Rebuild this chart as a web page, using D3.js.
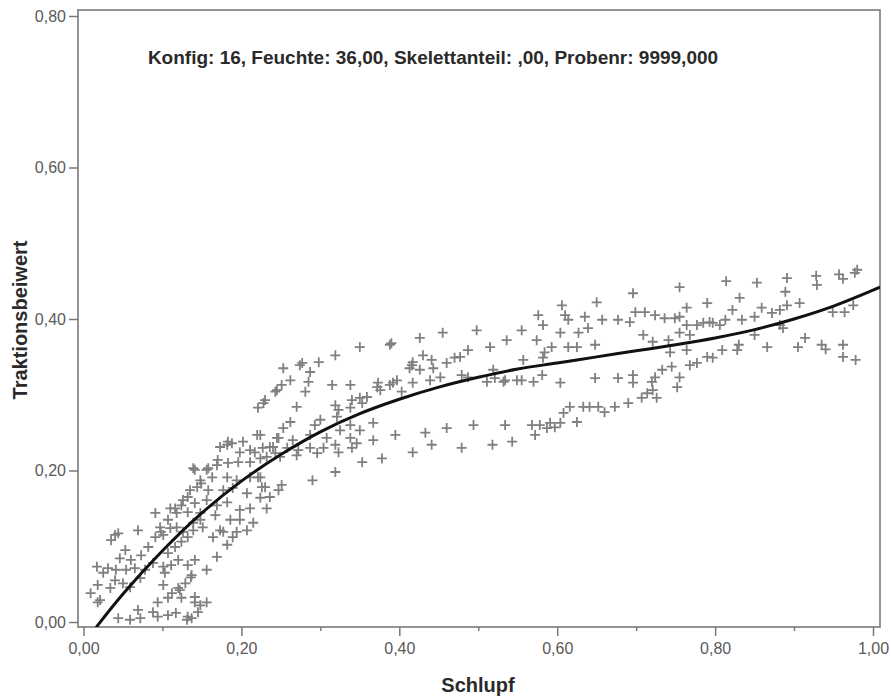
<!DOCTYPE html>
<html>
<head>
<meta charset="utf-8">
<script src="https://cdn.jsdelivr.net/npm/d3@7"></script>
<style>
  html, body { margin: 0; padding: 0; background: #fff; }
  svg { display: block; }
  text { font-family: "Liberation Sans", Arial, sans-serif; }
</style>
</head>
<body>
<svg id="chart" width="891" height="699"></svg>
<script>
// Messwerte: [Schlupf, Traktionsbeiwert]
const messwerte = [
  [0.814,0.450],[0.853,0.448],[0.891,0.454],[0.889,0.436],[0.928,0.457],[0.929,0.445],[0.957,0.459],[0.962,0.453],
  [0.977,0.461],[0.980,0.465],[0.831,0.428],[0.790,0.421],[0.822,0.412],[0.859,0.415],[0.891,0.418],[0.907,0.421],
  [0.882,0.412],[0.872,0.408],[0.850,0.403],[0.813,0.399],[0.834,0.399],[0.797,0.395],[0.785,0.395],[0.882,0.392],
  [0.886,0.388],[0.850,0.379],[0.949,0.409],[0.964,0.409],[0.975,0.418],[0.914,0.375],[0.905,0.363],[0.866,0.363],
  [0.830,0.366],[0.828,0.359],[0.809,0.359],[0.797,0.349],[0.790,0.350],[0.935,0.366],[0.940,0.360],[0.962,0.366],
  [0.962,0.350],[0.978,0.346],
  [0.755,0.442],[0.696,0.434],[0.650,0.422],[0.606,0.418],[0.764,0.415],[0.699,0.409],[0.711,0.409],[0.724,0.405],
  [0.736,0.401],[0.749,0.401],[0.576,0.405],[0.610,0.405],[0.614,0.399],[0.635,0.403],[0.657,0.399],[0.677,0.399],
  [0.692,0.396],[0.755,0.403],[0.764,0.392],[0.777,0.392],[0.793,0.396],[0.806,0.392],[0.555,0.385],[0.582,0.392],
  [0.604,0.382],[0.627,0.382],[0.639,0.388],[0.536,0.372],[0.574,0.372],[0.593,0.363],[0.614,0.363],[0.625,0.363],
  [0.648,0.366],[0.515,0.363],[0.709,0.379],[0.721,0.370],[0.741,0.372],[0.755,0.382],[0.768,0.379],[0.743,0.356],
  [0.764,0.359],[0.557,0.346],[0.582,0.349],[0.519,0.333],[0.511,0.317],[0.532,0.317],[0.549,0.319],[0.570,0.317],
  [0.581,0.326],[0.604,0.316],[0.648,0.322],[0.677,0.322],[0.696,0.326],[0.696,0.316],[0.720,0.317],[0.724,0.323],
  [0.733,0.333],[0.745,0.337],[0.755,0.323],[0.752,0.310],[0.768,0.339],[0.777,0.342],[0.721,0.306],[0.714,0.302],
  [0.707,0.296],[0.726,0.296],[0.690,0.289],[0.673,0.284],[0.660,0.277],[0.652,0.284],[0.641,0.284],[0.633,0.284],
  [0.616,0.284],[0.608,0.276],[0.604,0.263],[0.597,0.257],[0.591,0.263],[0.587,0.256],[0.578,0.260],[0.568,0.260],
  [0.572,0.247],[0.534,0.260],[0.625,0.264],[0.543,0.238],[0.518,0.234],
  [0.390,0.368],[0.426,0.375],[0.455,0.382],[0.498,0.385],[0.487,0.359],[0.584,0.356],[0.430,0.352],[0.417,0.343],
  [0.441,0.346],[0.443,0.335],[0.470,0.349],[0.460,0.342],[0.413,0.335],[0.426,0.333],[0.479,0.326],[0.452,0.323],
  [0.439,0.319],[0.417,0.316],[0.392,0.316],[0.521,0.322],[0.487,0.323],[0.534,0.319],[0.555,0.319],[0.376,0.306],
  [0.403,0.304],[0.460,0.256],[0.494,0.260],[0.395,0.247],[0.433,0.250],[0.441,0.234],[0.417,0.224],[0.479,0.230],
  [0.378,0.216],
  [0.350,0.363],[0.319,0.352],[0.298,0.343],[0.277,0.342],[0.253,0.335],[0.287,0.330],[0.285,0.317],[0.262,0.319],
  [0.251,0.313],[0.315,0.313],[0.338,0.313],[0.243,0.304],[0.281,0.304],[0.230,0.293],[0.221,0.283],[0.270,0.284],
  [0.319,0.286],[0.323,0.280],[0.340,0.293],[0.350,0.296],[0.373,0.316],[0.388,0.313],[0.397,0.319],[0.338,0.283],
  [0.321,0.271],[0.300,0.267],[0.293,0.260],[0.262,0.264],[0.253,0.256],[0.220,0.247],[0.245,0.243],[0.265,0.240],
  [0.287,0.247],[0.308,0.243],[0.325,0.253],[0.338,0.260],[0.350,0.253],[0.367,0.263],[0.338,0.243],[0.346,0.236],
  [0.367,0.240],[0.319,0.234],[0.304,0.230],[0.287,0.230],[0.272,0.227],[0.258,0.230],[0.240,0.231],[0.227,0.230],
  [0.217,0.224],[0.232,0.218],[0.249,0.218],[0.270,0.220],[0.296,0.223],[0.323,0.224],[0.340,0.230],[0.353,0.211],
  [0.319,0.198],[0.290,0.187],[0.251,0.181],[0.226,0.178],[0.221,0.191],
  [0.388,0.366],[0.274,0.339],[0.228,0.289],[0.416,0.339],[0.477,0.350],[0.372,0.310],[0.359,0.297],[0.353,0.289],
  [0.245,0.306],[0.202,0.238],[0.183,0.238],[0.173,0.231],[0.198,0.224],[0.211,0.227],[0.236,0.231],[0.247,0.243],
  [0.158,0.203],[0.139,0.203],[0.170,0.214],[0.183,0.210],[0.196,0.211],[0.211,0.211],[0.224,0.216],[0.243,0.223],
  [0.148,0.187],[0.163,0.191],[0.182,0.191],[0.194,0.187],[0.211,0.191],[0.224,0.191],[0.230,0.178],[0.135,0.174],
  [0.144,0.178],[0.158,0.174],[0.177,0.174],[0.189,0.177],[0.207,0.170],[0.224,0.164],[0.236,0.165],[0.247,0.174],
  [0.126,0.161],[0.141,0.157],[0.156,0.161],[0.169,0.154],[0.182,0.158],[0.110,0.150],[0.118,0.144],[0.132,0.145],
  [0.148,0.144],[0.167,0.141],[0.198,0.148],[0.211,0.150],[0.232,0.150],[0.186,0.135],[0.198,0.135],[0.215,0.131],
  [0.207,0.121],[0.107,0.135],[0.097,0.125],[0.118,0.125],[0.126,0.119],[0.139,0.131],[0.151,0.125],[0.101,0.115],
  [0.164,0.112],[0.177,0.119],[0.189,0.112],
  [0.040,0.115],[0.035,0.108],[0.069,0.121],[0.053,0.095],[0.046,0.084],[0.060,0.082],[0.073,0.088],[0.082,0.099],
  [0.091,0.112],[0.098,0.119],[0.110,0.124],[0.116,0.150],[0.124,0.154],[0.132,0.165],[0.149,0.183],[0.031,0.071],
  [0.025,0.065],[0.041,0.069],[0.054,0.069],[0.065,0.071],[0.040,0.055],[0.018,0.049],[0.009,0.038],[0.021,0.029],
  [0.034,0.045],[0.050,0.051],[0.059,0.046],[0.072,0.058],[0.078,0.069],[0.088,0.078],[0.101,0.073],[0.107,0.091],
  [0.116,0.099],[0.124,0.106],[0.132,0.112],[0.139,0.121],[0.148,0.135],[0.101,0.049],[0.103,0.065],[0.111,0.075],
  [0.120,0.082],[0.132,0.075],[0.141,0.082],[0.136,0.059],[0.129,0.051],[0.120,0.045],[0.107,0.032],[0.094,0.026],
  [0.124,0.032],[0.141,0.033],[0.044,0.005],[0.059,0.003],[0.072,0.005],[0.094,0.007],[0.107,0.009],[0.117,0.012],
  [0.132,0.007],[0.145,0.013],[0.069,0.016],[0.088,0.013],
  [0.182,0.234],[0.188,0.236],[0.224,0.247],[0.141,0.201],[0.156,0.201],[0.169,0.207],[0.091,0.144],[0.044,0.117],
  [0.017,0.073],[0.018,0.026],[0.137,0.062],[0.122,0.042],[0.112,0.038],[0.141,0.026],[0.156,0.026],[0.148,0.022],
  [0.131,0.003],[0.137,0.005],[0.194,0.119],[0.182,0.102],[0.169,0.086],[0.156,0.069],[0.173,0.121]
];

// Kubische Anpassungslinie, Stützstellen
const fitSchlupf = [0.016,0.05,0.10,0.15,0.20,0.25,0.30,0.35,0.40,0.45,0.50,0.55,0.60,0.65,0.70,0.75,0.80,0.85,0.90,0.95,1.00,1.009];
const fitWert    = [-0.007,0.037,0.094,0.144,0.186,0.221,0.251,0.275,0.294,0.310,0.323,0.334,0.342,0.350,0.358,0.366,0.375,0.386,0.400,0.417,0.438,0.442];

const xMajorTicks = [0, 0.2, 0.4, 0.6, 0.8, 1.0];
const xMinorTicks = [0.1, 0.3, 0.5, 0.7, 0.9];
const yMajorTicks = [0, 0.2, 0.4, 0.6, 0.8];

const titelText = "Konfig: 16, Feuchte: 36,00, Skelettanteil: ,00, Probenr: 9999,000";
const xTitel = "Schlupf";
const yTitel = "Traktionsbeiwert";

// Layout
const frame = { left: 78, right: 880, top: 10, bottom: 627 };
const x = d3.scaleLinear().domain([0, 1]).range([83.5, 873]);
const y = d3.scaleLinear().domain([0, 0.8]).range([622, 16]);
const fmt = v => d3.format(".2f")(v).replace(".", ",");

const svg = d3.select("#chart");

svg.append("defs").append("clipPath").attr("id", "plotclip")
  .append("rect")
  .attr("x", frame.left).attr("y", frame.top)
  .attr("width", frame.right - frame.left).attr("height", frame.bottom - frame.top);

// Achsen
const axisColor = "#7a7a7a";
const labelColor = "#5a5a5a";

const yAxis = svg.append("g")
  .attr("transform", `translate(${frame.left},0)`)
  .call(d3.axisLeft(y).tickValues(yMajorTicks).tickFormat(fmt).tickSize(9).tickPadding(3).tickSizeOuter(0));
yAxis.select(".domain").remove();
yAxis.selectAll("line").attr("stroke", axisColor).attr("stroke-width", 1.5);
yAxis.selectAll("text").attr("font-size", 16).attr("fill", labelColor)
  .attr("font-family", '"Liberation Sans", Arial, sans-serif');

const xAxis = svg.append("g")
  .attr("transform", `translate(0,${frame.bottom})`)
  .call(d3.axisBottom(x).tickValues(xMajorTicks).tickFormat(fmt).tickSize(9).tickPadding(7).tickSizeOuter(0));
xAxis.select(".domain").remove();
xAxis.selectAll("line").attr("stroke", axisColor).attr("stroke-width", 1.5);
xAxis.selectAll("text").attr("font-size", 16).attr("fill", labelColor)
  .attr("font-family", '"Liberation Sans", Arial, sans-serif');

const xMinor = svg.append("g")
  .attr("transform", `translate(0,${frame.bottom})`)
  .call(d3.axisBottom(x).tickValues(xMinorTicks).tickFormat("").tickSize(4).tickSizeOuter(0));
xMinor.select(".domain").remove();
xMinor.selectAll("line").attr("stroke", axisColor).attr("stroke-width", 1.5);

// Rahmen
svg.append("rect")
  .attr("x", frame.left).attr("y", frame.top)
  .attr("width", frame.right - frame.left).attr("height", frame.bottom - frame.top)
  .attr("fill", "none").attr("stroke", axisColor).attr("stroke-width", 1.6);

const plot = svg.append("g").attr("clip-path", "url(#plotclip)");

// Messpunkte als Kreuze
const cross = "M-5,0H5M0,-5V5";
plot.append("g").selectAll("path")
  .data(messwerte)
  .join("path")
  .attr("d", cross)
  .attr("transform", d => `translate(${x(d[0])},${y(d[1])})`)
  .attr("stroke", "#808080")
  .attr("stroke-width", 1.8)
  .attr("fill", "none");

// Anpassungslinie
const fitData = fitSchlupf.map((s, i) => [s, fitWert[i]]);
plot.append("path")
  .datum(fitData)
  .attr("d", d3.line().x(d => x(d[0])).y(d => y(d[1])).curve(d3.curveCatmullRom.alpha(0.5)))
  .attr("fill", "none")
  .attr("stroke", "#111")
  .attr("stroke-width", 3);

// Untertitel im Diagramm
svg.append("text")
  .attr("x", 433).attr("y", 64)
  .attr("text-anchor", "middle")
  .attr("font-size", 19).attr("font-weight", "bold")
  .attr("fill", "#2a2a2a")
  .text(titelText);

// Achsentitel
svg.append("text")
  .attr("x", 478).attr("y", 692)
  .attr("text-anchor", "middle")
  .attr("font-size", 20).attr("font-weight", "bold")
  .attr("fill", "#2a2a2a")
  .text(xTitel);

svg.append("text")
  .attr("transform", "translate(27,320) rotate(-90)")
  .attr("text-anchor", "middle")
  .attr("font-size", 20).attr("font-weight", "bold")
  .attr("fill", "#2a2a2a")
  .text(yTitel);
</script>
</body>
</html>
